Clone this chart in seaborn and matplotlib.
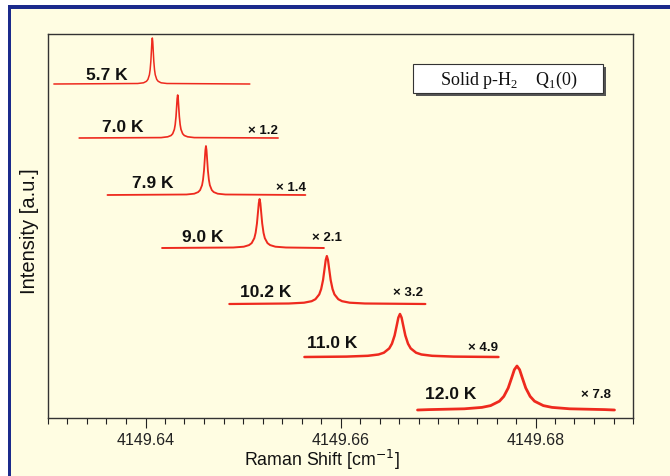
import numpy as np
import pandas as pd
import matplotlib
matplotlib.use("Agg")
import matplotlib.pyplot as plt
from matplotlib.patches import Rectangle
from matplotlib.ticker import MultipleLocator, FormatStrFormatter
import seaborn as sns

# ---------------- data ----------------
temps = ["5.7 K", "7.0 K", "7.9 K", "9.0 K", "10.2 K", "11.0 K", "12.0 K"]
factors = ["", "× 1.2", "× 1.4", "× 2.1", "× 3.2", "× 4.9", "× 7.8"]

shift_57 = [4149.6306, 4149.6392, 4149.6398, 4149.6401, 4149.64025, 4149.6404, 4149.640475, 4149.64055,
            4149.64061, 4149.640655, 4149.6407, 4149.640745, 4149.64079, 4149.64085, 4149.640925,
            4149.6410, 4149.64115, 4149.6413, 4149.6416, 4149.6422, 4149.6507]
int_57 = [334, 334.5, 335.2, 336.7, 338.6, 343.2, 348.3, 357, 367.8, 376.2, 380,
          376.2, 367.8, 357, 348.3, 343.2, 338.6, 336.7, 335.2, 334.5, 334]

shift_70 = [4149.6332, 4149.6416, 4149.64228, 4149.64262, 4149.64279, 4149.64296, 4149.643045, 4149.64313,
            4149.643198, 4149.643249, 4149.6433, 4149.643351, 4149.643402, 4149.64347, 4149.643555,
            4149.64364, 4149.64381, 4149.64398, 4149.64432, 4149.6450, 4149.6536]
int_70 = [280, 280.4, 281.2, 282.5, 284.3, 288.6, 293.3, 301.5, 311.6, 319.4, 323,
          319.4, 311.6, 301.5, 293.3, 288.6, 284.3, 282.5, 281.2, 280.4, 280]

shift_79 = [4149.6361, 4149.6442, 4149.6450, 4149.6454, 4149.6456, 4149.6458, 4149.6459, 4149.6460,
            4149.64608, 4149.64614, 4149.6462, 4149.64626, 4149.64632, 4149.6464, 4149.6465,
            4149.6466, 4149.6468, 4149.6470, 4149.6474, 4149.6482, 4149.6564]
int_79 = [223, 223.5, 224.3, 225.9, 227.9, 232.8, 238.2, 247.5, 259, 267.9, 272,
          267.9, 259, 247.5, 238.2, 232.8, 227.9, 225.9, 224.3, 223.5, 223]

shift_90 = [4149.6417, 4149.6490, 4149.65008, 4149.65062, 4149.65089, 4149.65116, 4149.651295, 4149.65143,
            4149.651538, 4149.651619, 4149.6517, 4149.651781, 4149.651862, 4149.65197, 4149.652105,
            4149.65224, 4149.65251, 4149.65278, 4149.65332, 4149.6544, 4149.6583]
int_90 = [170, 170.5, 171.3, 172.9, 174.9, 179.8, 185.2, 194.5, 206, 214.9, 219,
          214.9, 206, 194.5, 185.2, 179.8, 174.9, 172.9, 171.3, 170.5, 170]

shift_102 = [4149.6486, 4149.6547, 4149.65626, 4149.65704, 4149.65743, 4149.65782, 4149.658015, 4149.65821,
             4149.658366, 4149.658483, 4149.6586, 4149.658717, 4149.658834, 4149.65899, 4149.659185,
             4149.65938, 4149.65977, 4149.66016, 4149.66094, 4149.6625, 4149.6687]
int_102 = [114, 114.5, 115.3, 116.8, 118.8, 123.6, 128.9, 138, 149.3, 158, 162,
           158, 149.3, 138, 128.9, 123.6, 118.8, 116.8, 115.3, 114.5, 114]

shift_110 = [4149.6563, 4149.6606, 4149.6628, 4149.6639, 4149.66445, 4149.6650, 4149.665275, 4149.66555,
             4149.66577, 4149.665935, 4149.6661, 4149.666265, 4149.66643, 4149.66665, 4149.666925,
             4149.6672, 4149.66775, 4149.6683, 4149.6694, 4149.6716, 4149.6762]
int_110 = [61, 61.4, 62.2, 63.5, 65.3, 69.6, 74.3, 82.5, 92.6, 100.4, 104,
           100.4, 92.6, 82.5, 74.3, 69.6, 65.3, 63.5, 62.2, 61.4, 61]

shift_120 = [4149.6679, 4149.6691, 4149.6727, 4149.6745, 4149.6754, 4149.6763, 4149.67675, 4149.6772,
             4149.67756, 4149.67783, 4149.6781, 4149.67837, 4149.67864, 4149.6790, 4149.67945,
             4149.6799, 4149.6808, 4149.6817, 4149.6835, 4149.6871, 4149.6881]
int_120 = [8, 8.4, 9.2, 10.6, 12.4, 16.8, 21.6, 30, 40.3, 48.3, 52,
           48.3, 40.3, 30, 21.6, 16.8, 12.4, 10.6, 9.2, 8.4, 8]

shifts = [shift_57, shift_70, shift_79, shift_90, shift_102, shift_110, shift_120]
ints = [int_57, int_70, int_79, int_90, int_102, int_110, int_120]

# label anchor positions (data units)
temp_x = [4149.6360, 4149.6377, 4149.6407, 4149.6459, 4149.6523, 4149.6591, 4149.6713]
temp_y = [343, 291, 235, 181, 126, 75, 24]
fac_x = [None, 4149.6520, 4149.6549, 4149.6586, 4149.6669, 4149.6746, 4149.6862]
fac_y = [None, 288, 231, 181, 126, 71, 24]

# ---------------- style ----------------
sns.set_theme(style="white")
plt.rcParams["font.family"] = ["Liberation Sans", "DejaVu Sans"]
plt.rcParams["mathtext.fontset"] = "custom"
plt.rcParams["mathtext.rm"] = "Liberation Serif"

BG = "#FFFDE2"
RED = "#EE2A1E"
BLUE = "#1B2A8C"

W, H = 670, 477
fig = plt.figure(figsize=(6.7, 4.77), dpi=100, facecolor="white")
fig.add_artist(Rectangle((9 / W, 0), 1, 1 - 9 / H, transform=fig.transFigure,
                         facecolor=BG, edgecolor="none", zorder=-10))
fig.add_artist(Rectangle((8 / W, 1 - 9.5 / H), 1, 3.2 / H, transform=fig.transFigure,
                         facecolor=BLUE, edgecolor="none", zorder=-9))
fig.add_artist(Rectangle((8 / W, 0), 3 / W, 1 - 6.3 / H, transform=fig.transFigure,
                         facecolor=BLUE, edgecolor="none", zorder=-9))

ax = fig.add_axes([48 / W, 1 - 419 / H, 585 / W, 384 / H])
ax.set_facecolor(BG)

rows = []
for t, xs, ys in zip(temps, shifts, ints):
    for x, y in zip(xs, ys):
        rows.append({"T": t, "shift": x, "I": y})
df = pd.DataFrame(rows)

lws = [1.1, 1.2, 1.3, 1.4, 1.6, 1.8, 2.0]
for t, lw in zip(temps, lws):
    sns.lineplot(data=df[df["T"] == t], x="shift", y="I", color=RED, lw=lw,
                 estimator=None, sort=False, ax=ax, legend=False)

for i, t in enumerate(temps):
    ax.text(temp_x[i], temp_y[i], t, ha="center", va="center", fontsize=12.5,
            fontweight="bold", color="#111111")
    if factors[i]:
        ax.text(fac_x[i], fac_y[i], factors[i], ha="center", va="center", fontsize=9.5,
                fontweight="bold", color="#111111")

ax.set_xlim(4149.630, 4149.690)
ax.set_ylim(0, 384)
ax.xaxis.set_major_locator(MultipleLocator(0.02))
ax.xaxis.set_minor_locator(MultipleLocator(0.002))
ax.xaxis.set_major_formatter(FormatStrFormatter("%.2f"))
ax.set_yticks([])
ax.tick_params(axis="x", which="major", direction="out", length=7, width=0.8,
               colors="#222222", labelsize=11.5, bottom=True, pad=3)
ax.tick_params(axis="x", which="minor", direction="out", length=4, width=0.8,
               colors="#222222", bottom=True)
for s in ax.spines.values():
    s.set_color("#333333")
    s.set_linewidth(1.0)

ax.set_xlabel("Raman Shift [cm$^{\\mathsf{-1}}$]", fontsize=12.8, color="#111111")
ax.xaxis.set_label_coords(0.468, -0.075)
ax.set_ylabel("Intensity [a.u.]", fontsize=14.5, color="#111111")
ax.yaxis.set_label_coords(-0.016, 0.49)

# annotation box with shadow
ax.add_patch(Rectangle((0.629, 0.838), 0.325, 0.076, transform=ax.transAxes,
                       facecolor="#555555", edgecolor="none", zorder=5))
ax.add_patch(Rectangle((0.624, 0.846), 0.325, 0.076, transform=ax.transAxes,
                       facecolor="white", edgecolor="#333333", lw=0.8, zorder=6))
ax.text(0.787, 0.882, "Solid p-H$_2$    Q$_1$(0)", transform=ax.transAxes,
        ha="center", va="center", fontsize=13, family="Liberation Serif",
        color="#111111", zorder=7)

fig.savefig("out.png", dpi=100, facecolor=fig.get_facecolor())
